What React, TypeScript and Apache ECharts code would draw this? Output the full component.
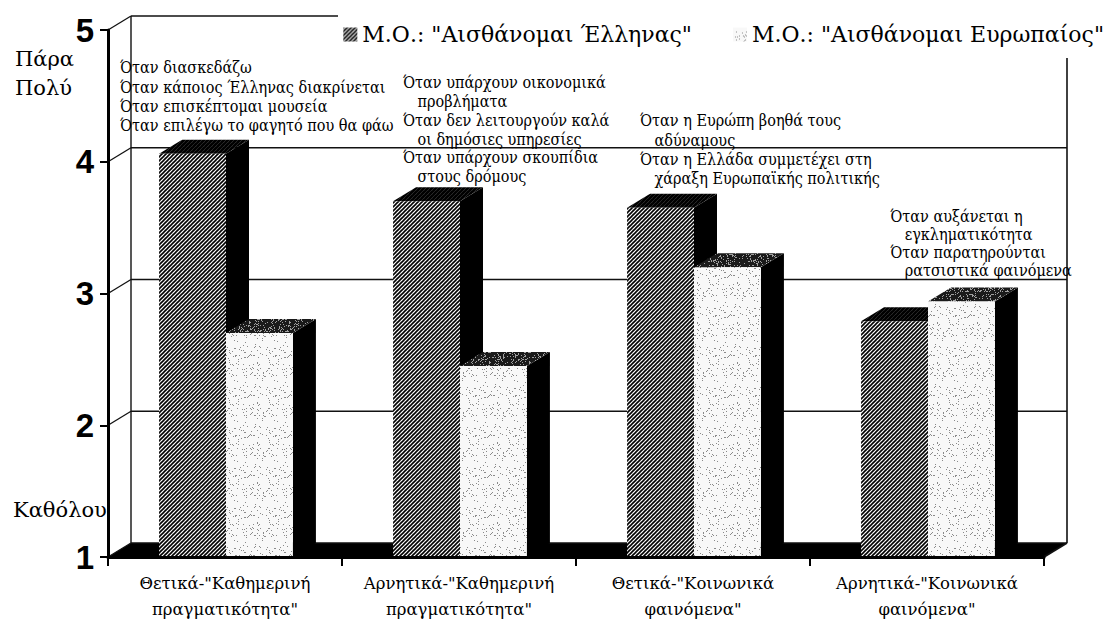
import React, { useEffect, useRef } from "react";
import * as echarts from "echarts";

// ---------- data ----------
const categories = [
  'Θετικά-"Καθημερινή\nπραγματικότητα"',
  'Αρνητικά-"Καθημερινή\nπραγματικότητα"',
  'Θετικά-"Κοινωνικά\nφαινόμενα"',
  'Αρνητικά-"Κοινωνικά\nφαινόμενα"',
];
const seriesNames = ['Μ.Ο.: "Αισθάνομαι Έλληνας"', 'Μ.Ο.: "Αισθάνομαι Ευρωπαίος"'];
const greekValues = [4.06, 3.7, 3.65, 2.79];
const europeanValues = [2.7, 2.45, 3.2, 2.94];
const yTicks = [1, 2, 3, 4, 5];
const topLabel = ["Πάρα", "Πολύ"];
const bottomLabel = "Καθόλου";
const annotationBlocks: string[][] = [
  [
    "Όταν διασκεδάζω",
    "Όταν κάποιος Έλληνας διακρίνεται",
    "Όταν επισκέπτομαι μουσεία",
    "Όταν επιλέγω το φαγητό που θα φάω",
  ],
  [
    "Όταν υπάρχουν οικονομικά",
    "\u2003προβλήματα",
    "Όταν δεν λειτουργούν καλά",
    "\u2003οι δημόσιες υπηρεσίες",
    "Όταν υπάρχουν σκουπίδια",
    "\u2003στους δρόμους",
  ],
  [
    "Όταν η Ευρώπη βοηθά τους",
    "\u2003αδύναμους",
    "Όταν η Ελλάδα συμμετέχει στη",
    "\u2003χάραξη Ευρωπαϊκής πολιτικής",
  ],
  [
    "Όταν αυξάνεται η",
    "\u2002\u2002εγκληματικότητα",
    "Όταν παρατηρούνται",
    "\u2002\u2002ρατσιστικά φαινόμενα",
  ],
];

// ---------- layout / style ----------
const W = 1109;
const H = 622;
const DX = 23;
const DY = -14;
const BAR_FRACTION = 0.286;
const SERIF = "DejaVu Serif";
const SANS = "Liberation Sans";
const ANN_SIZE = 16.5;
const ANN_REF_WIDTH = 203; // width of "Όταν υπάρχουν οικονομικά" in the reference
const annotationPos = [
  { x: 120, y: 58.5, lh: 19.3 },
  { x: 403, y: 73.5, lh: 18.8 },
  { x: 640, y: 111.5, lh: 19.3 },
  { x: 0, y: 208, lh: 18 }, // x computed so the last line ends at the right wall
];

function makeCanvas(size: number, draw: (ctx: CanvasRenderingContext2D) => void) {
  const c = document.createElement("canvas");
  c.width = size;
  c.height = size;
  const ctx = c.getContext("2d")!;
  draw(ctx);
  return c;
}

function hatch(size: number, lw: number, bg: string, fg: string) {
  return makeCanvas(size, (ctx) => {
    ctx.fillStyle = bg;
    ctx.fillRect(0, 0, size, size);
    ctx.strokeStyle = fg;
    ctx.lineWidth = lw;
    for (const c of [0, size, 2 * size]) {
      ctx.beginPath();
      ctx.moveTo(c - size - 1, size + 1);
      ctx.lineTo(c + 1, -1);
      ctx.stroke();
    }
  });
}

// procedural speckle texture (visual only)
function speckle(size: number, bg: string, fg: string, density: number, seed: number) {
  return makeCanvas(size, (ctx) => {
    ctx.fillStyle = bg;
    ctx.fillRect(0, 0, size, size);
    ctx.fillStyle = fg;
    for (let x = 0; x < size; x++) {
      for (let y = 0; y < size; y++) {
        let h = (x * 374761393 + y * 668265263 + seed * 2246822519) >>> 0;
        h = ((h ^ (h >>> 13)) * 1274126177) >>> 0;
        if ((h % 1000) / 1000 < density) ctx.fillRect(x, y, 1, 1);
      }
    }
  });
}

function pattern(c: HTMLCanvasElement) {
  return { image: c, repeat: "repeat", imageWidth: c.width, imageHeight: c.height } as any;
}

function textWidth(text: string, size: number, family: string) {
  const c = document.createElement("canvas");
  const ctx = c.getContext("2d")!;
  ctx.font = `${size}px "${family}"`;
  return ctx.measureText(text).width;
}

export default function App() {
  const ref = useRef<HTMLDivElement>(null);

  useEffect(() => {
    if (!ref.current) return;
    const chart = echarts.init(ref.current, undefined, { renderer: "svg" });

    const greekFront = pattern(hatch(4, 1.6, "#ffffff", "#000000"));
    const greekTop = pattern(hatch(4, 2.6, "#555555", "#000000"));
    const euroFront = pattern(speckle(40, "#f8f8f8", "#8a8a8a", 0.08, 1));
    const euroTop = pattern(speckle(40, "#1a1a1a", "#a0a0a0", 0.18, 2));

    const gridLeft = 108;
    const gridRight = 1044;

    const renderFrame = (params: any, api: any) => {
      const cs = params.coordSys;
      const left = cs.x;
      const right = cs.x + cs.width;
      const bottom = api.coord([0, yTicks[0]])[1];
      const top = api.coord([0, yTicks[yTicks.length - 1]])[1];
      const children: any[] = [];
      children.push({
        type: "polygon",
        shape: { points: [[left, bottom], [right, bottom], [right + DX, bottom + DY], [left + DX, bottom + DY]] },
        style: { fill: "#000" },
      });
      yTicks.forEach((v) => {
        const y = api.coord([0, v])[1];
        children.push({
          type: "line",
          shape: { x1: left + DX, y1: y + DY, x2: right + DX, y2: y + DY },
          style: { stroke: "#111", lineWidth: 1.3 },
        });
        children.push({
          type: "line",
          shape: { x1: left, y1: y, x2: left + DX, y2: y + DY },
          style: { stroke: "#111", lineWidth: 1.3 },
        });
      });
      children.push({
        type: "line",
        shape: { x1: left + DX, y1: top + DY, x2: left + DX, y2: bottom + DY },
        style: { stroke: "#111", lineWidth: 1.4 },
      });
      children.push({
        type: "line",
        shape: { x1: right + DX, y1: top + DY, x2: right + DX, y2: bottom + DY },
        style: { stroke: "#111", lineWidth: 1.6 },
      });
      children.push({
        type: "line",
        shape: { x1: right, y1: bottom, x2: right + DX, y2: bottom + DY },
        style: { stroke: "#111", lineWidth: 2 },
      });
      return { type: "group", children };
    };

    const makeBar = (idx: number, front: any, topFill: any) => (params: any, api: any) => {
      const cat = api.value(0);
      const v = api.value(1);
      const p = api.coord([cat, v]);
      const b = api.coord([cat, yTicks[0]]);
      const band = api.size([1, 0])[0];
      const bw = band * BAR_FRACTION;
      const x0 = p[0] + (idx === 0 ? -bw : 0) + 1;
      const yt = p[1];
      const yb = b[1];
      return {
        type: "group",
        children: [
          {
            type: "polygon",
            shape: { points: [[x0 + bw, yt], [x0 + bw + DX, yt + DY], [x0 + bw + DX, yb + DY], [x0 + bw, yb]] },
            style: { fill: "#000" },
          },
          {
            type: "polygon",
            shape: { points: [[x0, yt], [x0 + bw, yt], [x0 + bw + DX, yt + DY], [x0 + DX, yt + DY]] },
            style: { fill: topFill },
          },
          {
            type: "rect",
            shape: { x: x0, y: yt, width: bw, height: yb - yt },
            style: { fill: front },
          },
        ],
      };
    };

    // horizontal compression so the annotation text has the reference's width
    const annScale = Math.min(1, ANN_REF_WIDTH / textWidth(annotationBlocks[1][0], ANN_SIZE, SERIF));
    // block 4: its last line ends just past the right wall
    const lastLine = annotationBlocks[3][annotationBlocks[3].length - 1];
    const block4X = gridRight + DX + 5 - textWidth(lastLine, ANN_SIZE, SERIF) * annScale;

    const graphics: any[] = [
      { type: "rect", z: 3, shape: { x: 338, y: 0, width: W - 338, height: 58 }, style: { fill: "#fff" } },
      {
        type: "text",
        z: 5,
        x: 15,
        y: 44,
        style: { text: topLabel.join("\n"), fill: "#000", fontFamily: SERIF, fontSize: 21, lineHeight: 29, verticalAlign: "top" },
      },
      {
        type: "text",
        z: 5,
        x: 13,
        y: 495,
        style: { text: bottomLabel, fill: "#000", fontFamily: SERIF, fontSize: 21, lineHeight: 29, verticalAlign: "top" },
      },
    ];
    annotationBlocks.forEach((lines, i) => {
      const pos = annotationPos[i];
      graphics.push({
        type: "text",
        z: 5,
        x: i === 3 ? block4X : pos.x,
        y: pos.y,
        scaleX: annScale,
        style: {
          text: lines.join("\n"),
          fill: "#000",
          fontFamily: SERIF,
          fontSize: ANN_SIZE,
          lineHeight: pos.lh,
          verticalAlign: "top",
        },
      });
    });

    chart.setOption({
      animation: false,
      backgroundColor: "#fff",
      grid: { left: gridLeft, right: W - gridRight, top: 30, bottom: H - 559 },
      legend: {
        data: seriesNames,
        right: 5,
        top: 22,
        padding: 0,
        icon: "rect",
        itemWidth: 14,
        itemHeight: 14,
        itemGap: 41,
        textStyle: { fontFamily: SERIF, fontSize: 22, color: "#000", lineHeight: 25 },
        z: 6,
      },
      xAxis: {
        type: "category",
        data: categories,
        boundaryGap: true,
        axisLine: { show: true, lineStyle: { color: "#000", width: 3 } },
        axisTick: { show: true, length: 9, alignWithLabel: false, lineStyle: { color: "#000", width: 2 } },
        axisLabel: { margin: 13, fontFamily: SERIF, fontSize: 16.5, lineHeight: 26, color: "#000", interval: 0 },
        splitLine: { show: false },
        z: 10,
      },
      yAxis: {
        type: "value",
        min: 1,
        max: 5,
        interval: 1,
        axisLine: { show: true, lineStyle: { color: "#000", width: 3 } },
        axisTick: { show: true, length: 8, lineStyle: { color: "#000", width: 2 } },
        axisLabel: { margin: 14, fontFamily: SANS, fontWeight: "bold", fontSize: 33, color: "#000" },
        splitLine: { show: false },
        z: 10,
      },
      graphic: graphics,
      series: [
        {
          type: "custom",
          name: "frame",
          silent: true,
          clip: false,
          z: 1,
          renderItem: renderFrame,
          data: [[0, 1]],
        },
        {
          type: "custom",
          name: seriesNames[0],
          clip: false,
          z: 2,
          itemStyle: { color: greekFront },
          renderItem: makeBar(0, greekFront, greekTop),
          data: greekValues.map((v, i) => [i, v]),
        },
        {
          type: "custom",
          name: seriesNames[1],
          clip: false,
          z: 2,
          itemStyle: { color: euroFront },
          renderItem: makeBar(1, euroFront, euroTop),
          data: europeanValues.map((v, i) => [i, v]),
        },
      ],
    });

    return () => chart.dispose();
  }, []);

  return <div ref={ref} style={{ position: "fixed", left: 0, top: 0, width: W, height: H }} />;
}
